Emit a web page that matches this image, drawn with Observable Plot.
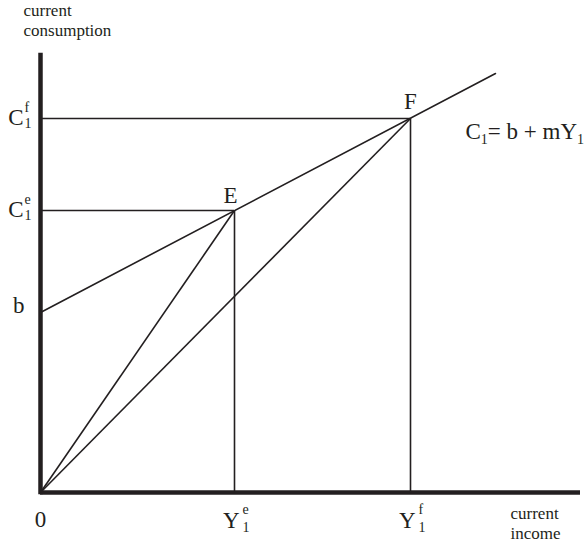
<!DOCTYPE html>
<html><head><meta charset="utf-8">
<script src="https://cdn.jsdelivr.net/npm/d3@7"></script>
<script src="https://cdn.jsdelivr.net/npm/@observablehq/plot@0.6"></script>
<style>body{margin:0;background:#fff} #chart svg{display:block} #chart svg text{font-family:"Liberation Serif","Times New Roman",serif}</style>
</head><body><div id="chart"></div>
<script>
// ---- data ----
const pointNames = ["E", "F"];
const incomeVals = [1.94, 3.70];   // Y1e, Y1f
const consVals = [2.82, 3.74];     // C1e, C1f
const supLetters = ["e", "f"];
const subIndex = "1";
const interceptB = 1.80;           // b
const lineEnd = [4.55, 4.19];      // end of consumption line
const xMax = 5.40, yMax = 4.37;    // axis extents
const originLabel = "0";
const interceptLabel = "b";
const yAxisTitle = "current\nconsumption";
const xAxisTitle = "current\nincome";
const eqParts = [["C", "1"], ["= b + mY", "1"]];
const equation = eqParts.map(p => p.join("")).join("");

const points = pointNames.map((name, i) => ({name, x: incomeVals[i], y: consVals[i], sup: supLetters[i]}));
const consLine = [{x: 0, y: interceptB}, {x: lineEnd[0], y: lineEnd[1]}];
const ink = "#231f20";
const big = 23, small = 14, title = 17, lw = 1.6;
const zero = () => 0;

const chart = Plot.plot({
  width: 584, height: 541,
  marginLeft: 40, marginRight: 4, marginTop: 55, marginBottom: 49,
  x: {domain: [0, xMax], axis: null},
  y: {domain: [0, yMax], axis: null},
  style: {fontFamily: "'Liberation Serif', 'Times New Roman', serif", background: "#fff", color: ink, overflow: "visible"},
  marks: [
    Plot.ruleY(points, {y: "y", x1: zero, x2: "x", stroke: ink, strokeWidth: lw}),
    Plot.ruleX(points, {x: "x", y1: zero, y2: "y", stroke: ink, strokeWidth: lw}),
    Plot.link(points, {x1: zero, y1: zero, x2: "x", y2: "y", stroke: ink, strokeWidth: lw}),
    Plot.line(consLine, {x: "x", y: "y", stroke: ink, strokeWidth: lw}),
    Plot.ruleX([0], {x: zero, y1: zero, y2: () => yMax, stroke: ink, strokeWidth: 4.5, strokeLinecap: "square"}),
    Plot.ruleY([0], {y: zero, x1: zero, x2: () => xMax, stroke: ink, strokeWidth: 4.5}),
    // point labels
    Plot.text(points.slice(0, 1), {x: "x", y: "y", text: "name", dx: -4, dy: -8, lineAnchor: "bottom", fontSize: big, fill: ink}),
    Plot.text(points.slice(1), {x: "x", y: "y", text: "name", dx: 0, dy: -10, lineAnchor: "bottom", fontSize: big, fill: ink}),
    // y-side labels C1e, C1f
    Plot.text(points, {x: zero, y: "y", text: () => "C", textAnchor: "end", dx: -17, dy: 6, lineAnchor: "bottom", fontSize: big, fill: ink}),
    Plot.text(points, {x: zero, y: "y", text: "sup", textAnchor: "start", dx: -16, dy: -7, lineAnchor: "bottom", fontSize: small, fill: ink}),
    Plot.text(points, {x: zero, y: "y", text: () => subIndex, textAnchor: "start", dx: -16, dy: 9, lineAnchor: "bottom", fontSize: small, fill: ink}),
    Plot.text([interceptLabel], {x: zero, y: () => interceptB, text: d => d, textAnchor: "end", dx: -16, dy: 0, lineAnchor: "bottom", fontSize: big, fill: ink}),
    // x-side labels
    Plot.text([originLabel], {x: zero, y: zero, text: d => d, dy: 34, lineAnchor: "bottom", fontSize: big, fill: ink}),
    Plot.text(points, {x: "x", y: zero, text: () => "Y", textAnchor: "end", dx: 5, dy: 35, lineAnchor: "bottom", fontSize: big, fill: ink}),
    Plot.text(points, {x: "x", y: zero, text: "sup", textAnchor: "start", dx: 8, dy: 21, lineAnchor: "bottom", fontSize: small, fill: ink}),
    Plot.text(points, {x: "x", y: zero, text: () => subIndex, textAnchor: "start", dx: 8, dy: 39, lineAnchor: "bottom", fontSize: small, fill: ink}),
    // equation
    Plot.text([equation], {x: () => points[1].x, y: () => points[1].y, text: d => d, textAnchor: "start", dx: 55, dy: 20, lineAnchor: "bottom", fontSize: big, fill: ink}),
    // axis titles
    Plot.text([yAxisTitle], {x: zero, y: () => yMax, text: d => d, textAnchor: "start", dx: -17, dy: -20, lineAnchor: "bottom", lineHeight: 1.12, fontSize: title, fill: ink}),
    Plot.text([xAxisTitle], {x: () => xMax, y: zero, text: d => d, textAnchor: "start", dx: -70, dy: 46, lineAnchor: "bottom", lineHeight: 1.12, fontSize: title, fill: ink})
  ]
});

// subscripts in the equation
d3.select(chart).selectAll("text").filter(function () { return this.textContent === equation; }).each(function () {
  const t = d3.select(this);
  t.text("");
  eqParts.forEach(([main, sub], i) => {
    t.append("tspan").attr("dy", i ? -5 : null).text(main);
    t.append("tspan").attr("font-size", small).attr("dy", 5).text(sub);
  });
});

document.getElementById("chart").append(chart);
</script>
</body></html>
